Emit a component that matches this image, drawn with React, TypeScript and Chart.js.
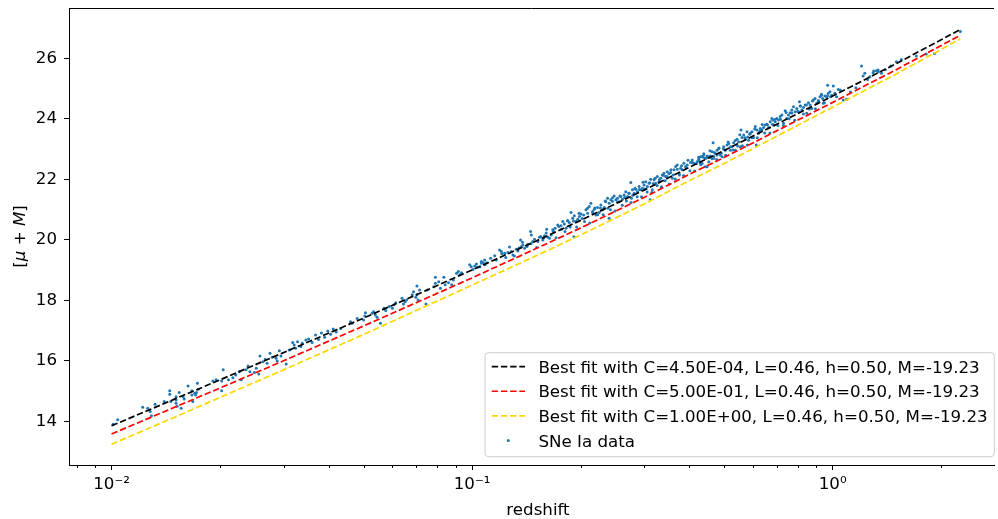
import React, { useEffect, useRef } from 'react';
import { Chart, registerables } from 'chart.js';

Chart.register(...registerables);

// ---------- axis ticks ----------
const xTickValues = [0.01, 0.1, 1];
const xTickLabels = ['10⁻²', '10⁻¹', '10⁰'];
const xMinorTickValues = [0.008, 0.009, 0.02, 0.03, 0.04, 0.05, 0.06, 0.07, 0.08, 0.09, 0.2, 0.3, 0.4, 0.5, 0.6, 0.7, 0.8, 0.9, 2];
const yTickValues = [14, 16, 18, 20, 22, 24, 26];

// ---------- best-fit curves ----------
const fitRedshift = [0.01, 0.015, 0.02, 0.03, 0.05, 0.07, 0.1, 0.15, 0.2, 0.3, 0.4, 0.5, 0.7, 1.0, 1.5, 2.0, 2.26];
const fitC450Em04 = [13.85, 14.74, 15.37, 16.27, 17.41, 18.18, 19.0, 19.95, 20.64, 21.64, 22.39, 22.95, 23.82, 24.75, 25.82, 26.61, 26.95];
const fitC500Em01 = [13.58, 14.47, 15.1, 16.0, 17.15, 17.92, 18.74, 19.7, 20.39, 21.4, 22.16, 22.72, 23.6, 24.54, 25.62, 26.42, 26.76];
const fitC100Ep00 = [13.24, 14.14, 14.79, 15.7, 16.87, 17.66, 18.5, 19.46, 20.16, 21.18, 21.95, 22.52, 23.42, 24.38, 25.48, 26.29, 26.64];

const seriesLabels = [
  'Best fit with C=4.50E-04, L=0.46, h=0.50, M=-19.23',
  'Best fit with C=5.00E-01, L=0.46, h=0.50, M=-19.23',
  'Best fit with C=1.00E+00, L=0.46, h=0.50, M=-19.23',
  'SNe Ia data',
];

// ---------- SNe Ia data: [redshift, mu + M] ----------
const sneIa: [number, number][] = [
  [0.0101, 13.9], [0.0104, 14.05], [0.0122, 14.46], [0.0126, 14.43], [0.0128, 14.32], [0.0129, 14.18], [0.0132, 14.56],
  [0.014, 14.65], [0.0145, 15.01], [0.0145, 14.89], [0.0146, 14.65], [0.0151, 14.7], [0.0151, 14.6], [0.0152, 14.5],
  [0.0151, 14.81], [0.0154, 14.95], [0.0156, 14.43], [0.0158, 14.81], [0.0159, 14.74], [0.0163, 15.17], [0.0167, 14.87],
  [0.0167, 15.01], [0.0168, 14.65], [0.017, 14.93], [0.0171, 14.87], [0.0172, 14.95], [0.0173, 15.26], [0.0174, 15.06],
  [0.0191, 15.33], [0.0195, 15.37], [0.0202, 15.33], [0.0204, 15.7], [0.0202, 15.01],
  [0.0211, 15.37], [0.0217, 15.44], [0.0221, 15.53], [0.0226, 15.64], [0.0229, 15.37], [0.0236, 15.7], [0.0239, 15.83],
  [0.0242, 15.64], [0.0249, 15.61], [0.0252, 15.75], [0.0256, 15.56], [0.0258, 16.16], [0.0263, 15.97], [0.0267, 16.05],
  [0.027, 15.92], [0.0275, 16.25], [0.0279, 16.12], [0.0286, 16.08], [0.0288, 15.99], [0.0292, 16.33], [0.0295, 16.16],
  [0.0305, 15.89], [0.0311, 16.36], [0.0318, 16.6], [0.0321, 16.52], [0.0324, 16.41], [0.0328, 16.63], [0.0335, 16.47],
  [0.0338, 16.58], [0.0346, 16.69],
  [0.0352, 16.72], [0.036, 16.6], [0.0368, 16.85], [0.0375, 16.7], [0.0382, 16.92], [0.039, 16.78], [0.0398, 16.98],
  [0.0405, 16.88], [0.0412, 17.05], [0.042, 16.95],
  [0.0432, 17.07], [0.046, 17.29], [0.0465, 17.24], [0.048, 17.4], [0.05, 17.35], [0.0506, 17.59], [0.0504, 17.48],
  [0.0528, 17.57], [0.0533, 17.62], [0.0539, 17.51], [0.0545, 17.44], [0.0557, 17.24], [0.057, 17.74], [0.0576, 17.66],
  [0.0589, 17.79], [0.0601, 17.74], [0.0607, 17.85], [0.0614, 17.92], [0.0639, 18.07], [0.0645, 17.88], [0.0652, 17.95],
  [0.0658, 18.01], [0.0682, 18.18], [0.0688, 18.28], [0.0703, 18.47], [0.0698, 18.1], [0.0708, 18.01], [0.0715, 18.34],
  [0.0703, 18.18], [0.0745, 17.88], [0.0751, 18.34], [0.0784, 18.45], [0.0791, 18.76], [0.0791, 18.56], [0.0808, 18.61],
  [0.0817, 18.4], [0.0835, 18.76], [0.0842, 18.51], [0.086, 18.58], [0.0878, 18.51], [0.0887, 18.67], [0.0906, 18.89],
  [0.0916, 18.95], [0.0925, 18.84], [0.0935, 18.91], [0.0985, 19.17], [0.0995, 19.11], [0.1006, 19.02], [0.1017, 19.13],
  [0.1028, 19.2], [0.1035, 19.09], [0.1051, 19.11], [0.1062, 19.22], [0.1074, 19.24], [0.1086, 19.17], [0.1098, 19.24],
  [0.1061, 19.28], [0.1084, 19.33], [0.1126, 19.39], [0.1155, 19.47], [0.1167, 19.33], [0.1192, 19.66], [0.1205, 19.61],
  [0.1231, 19.55], [0.1257, 19.58], [0.1284, 19.61], [0.1298, 19.5], [0.1326, 19.69], [0.134, 19.63], [0.1363, 19.99],
  [0.1369, 19.77], [0.1383, 19.83], [0.1398, 19.72], [0.1428, 19.85], [0.1453, 20.27], [0.1458, 19.88], [0.1474, 19.94],
  [0.149, 20.02], [0.1522, 19.94], [0.1538, 20.08], [0.1571, 19.99], [0.1588, 20.13], [0.1605, 20.22], [0.1622, 20.08],
  [0.1657, 20.16], [0.1674, 20.33], [0.1699, 20.38], [0.1728, 20.49], [0.1765, 20.46], [0.1784, 20.6], [0.1803, 20.52],
  [0.1822, 20.38], [0.1842, 20.63], [0.1861, 20.57], [0.1881, 20.9], [0.1901, 20.71], [0.1921, 20.79], [0.1942, 20.6],
  [0.1963, 20.68], [0.1984, 20.77], [0.2004, 20.85], [0.2039, 20.82], [0.2069, 20.99], [0.2091, 21.04], [0.2113, 21.1],
  [0.2136, 21.21], [0.2159, 20.93], [0.2182, 21.01], [0.2205, 20.82], [0.2228, 21.07], [0.2252, 20.9], [0.2276, 21.15],
  [0.2301, 20.99], [0.2325, 21.07], [0.235, 21.26], [0.2375, 21.37], [0.2401, 21.21], [0.2426, 21.32], [0.2452, 21.39],
  [0.2478, 21.45], [0.2505, 21.32], [0.2531, 21.37], [0.2558, 21.26], [0.2586, 21.43], [0.2613, 21.34], [0.2641, 21.48],
  [0.2669, 21.59], [0.2698, 21.43], [0.2727, 21.54], [0.2756, 21.89], [0.2767, 21.37], [0.2785, 21.65], [0.2815, 21.54],
  [0.2845, 21.67], [0.2875, 21.59], [0.2906, 21.76], [0.2937, 21.65], [0.2969, 21.7], [0.2999, 21.81], [0.3031, 21.92],
  [0.3063, 21.76], [0.3096, 21.87], [0.3129, 22.0], [0.3162, 21.65], [0.3196, 21.98], [0.323, 21.87], [0.3264, 22.09],
  [0.3299, 21.92], [0.3334, 22.03], [0.337, 22.14], [0.3406, 22.2], [0.3442, 22.09], [0.3479, 22.25], [0.3516, 22.18],
  [0.3554, 22.22], [0.3592, 22.03], [0.363, 22.31], [0.3669, 22.42], [0.3707, 22.47], [0.3747, 22.2], [0.3787, 22.36],
  [0.3827, 22.31], [0.3868, 22.53], [0.3909, 22.42], [0.3951, 22.47], [0.4036, 22.55], [0.4079, 22.64], [0.4121, 22.53],
  [0.421, 22.58], [0.4255, 22.66], [0.43, 22.53], [0.4346, 22.75], [0.4392, 22.84], [0.4439, 22.69], [0.4486, 22.77],
  [0.4583, 22.73], [0.4681, 22.75], [0.4781, 22.8], [0.4884, 22.86],
  [0.4254, 22.63], [0.4299, 22.74], [0.4345, 22.52], [0.4392, 22.8], [0.4439, 22.69], [0.4486, 22.41], [0.4534, 22.58],
  [0.4582, 22.77], [0.4631, 22.91], [0.4661, 23.21], [0.468, 22.69], [0.473, 22.85], [0.4781, 22.96], [0.4832, 23.02],
  [0.4883, 22.8], [0.4935, 22.74], [0.4988, 23.07], [0.5041, 22.96], [0.5095, 23.13], [0.5149, 23.18], [0.5204, 22.96],
  [0.526, 23.07], [0.5316, 23.21], [0.5373, 22.96], [0.543, 23.32], [0.5488, 23.24], [0.5546, 23.07], [0.557, 23.63],
  [0.5606, 23.38], [0.5666, 23.46], [0.5726, 23.32], [0.5787, 23.57], [0.5812, 23.4], [0.5848, 23.29], [0.5911, 23.52],
  [0.5974, 23.57], [0.6037, 23.38], [0.6102, 23.74], [0.6141, 23.13], [0.6166, 23.63], [0.6232, 23.52], [0.6299, 23.68],
  [0.6366, 23.63], [0.6434, 23.71], [0.6502, 23.79], [0.6572, 23.82], [0.6642, 23.71], [0.6713, 23.9], [0.6784, 24.01],
  [0.6827, 23.96], [0.6857, 23.79], [0.693, 23.9], [0.7004, 24.01], [0.7079, 23.96], [0.7154, 24.07], [0.7231, 24.12],
  [0.7308, 23.85], [0.7386, 24.26], [0.7464, 24.01], [0.7544, 24.12], [0.7624, 24.2], [0.7706, 24.29], [0.7788, 24.4],
  [0.7871, 24.23], [0.7955, 24.34], [0.804, 24.23], [0.8092, 24.56], [0.8126, 24.42], [0.8213, 24.29], [0.83, 24.37],
  [0.8389, 24.45], [0.8479, 24.18], [0.8566, 24.53], [0.8659, 24.45], [0.8751, 24.34], [0.8844, 24.62], [0.8939, 24.67],
  [0.9034, 24.51], [0.9129, 24.6], [0.9226, 24.73], [0.9324, 24.78], [0.9383, 24.67], [0.9423, 24.51], [0.9524, 24.75],
  [0.9625, 24.73], [0.9687, 25.11], [0.9728, 24.84], [0.9831, 24.89], [0.9936, 24.78], [1.0042, 25.08], [1.0148, 24.84],
  [1.0257, 24.73], [1.0368, 24.97], [1.0703, 24.62], [1.0932, 24.64],
  [1.2024, 25.74], [1.2152, 25.41], [1.2282, 25.5], [1.2678, 25.39], [1.295, 25.52], [1.3228, 25.59], [1.3369, 25.61],
  [1.3657, 25.5], [1.5024, 25.88], [1.5509, 25.96], [1.7061, 26.07], [1.8184, 26.14], [1.9174, 26.16], [2.26, 26.88],
  [0.121, 19.54], [0.124, 19.41], [0.127, 19.76], [0.131, 19.46], [0.135, 19.73], [0.138, 19.92], [0.142, 19.78],
  [0.146, 20.16], [0.151, 19.74], [0.155, 20.11], [0.158, 20.06], [0.161, 20.35], [0.164, 20.05], [0.168, 20.28],
  [0.171, 20.07], [0.174, 20.44], [0.177, 20.35], [0.181, 20.27], [0.184, 20.63], [0.187, 20.42], [0.191, 20.62],
  [0.195, 20.42], [0.198, 20.88], [0.202, 20.7], [0.205, 20.6], [0.209, 20.88], [0.212, 20.55], [0.216, 20.89],
  [0.219, 21.05], [0.223, 20.83], [0.227, 21.05], [0.231, 20.83], [0.234, 21.28], [0.238, 21.04], [0.242, 20.99],
  [0.245, 21.27], [0.249, 20.95], [0.253, 21.25], [0.257, 21.45], [0.261, 21.14], [0.265, 21.4], [0.268, 21.28],
  [0.272, 21.54], [0.276, 21.23], [0.279, 21.47], [0.283, 21.7], [0.287, 21.42], [0.291, 21.66], [0.295, 21.42],
  [0.298, 21.9], [0.302, 21.68], [0.306, 21.58], [0.311, 21.88], [0.315, 21.56], [0.318, 21.86], [0.322, 22.03],
  [0.326, 21.79], [0.331, 21.99], [0.335, 21.75], [0.339, 22.13], [0.343, 21.95], [0.347, 22.09], [0.352, 21.84],
  [0.356, 22.31], [0.361, 22.14], [0.366, 22.01], [0.371, 22.33], [0.376, 22.14], [0.381, 22.45], [0.386, 22.12],
  [0.392, 22.38], [0.397, 22.63], [0.402, 22.28], [0.408, 22.55], [0.414, 22.27], [0.419, 22.52], [0.425, 22.73],
  [0.431, 22.48], [0.437, 22.73], [0.443, 22.41], [0.45, 22.75], [0.457, 22.94], [0.463, 22.68], [0.47, 22.88],
  [0.477, 22.65], [0.484, 23.03], [0.491, 22.86], [0.498, 23.0], [0.505, 22.79], [0.513, 23.23], [0.521, 23.07],
  [0.529, 22.97], [0.537, 23.28], [0.545, 23.1], [0.553, 23.47], [0.562, 23.11], [0.571, 23.37], [0.58, 23.13],
  [0.589, 23.49], [0.598, 23.37], [0.608, 23.66], [0.618, 23.37], [0.628, 23.59], [0.638, 23.81], [0.648, 23.53],
  [0.659, 23.8], [0.67, 23.53], [0.681, 23.82], [0.693, 23.98], [0.705, 23.78], [0.717, 23.98], [0.73, 23.78],
  [0.743, 24.21], [0.757, 24.0], [0.771, 24.19], [0.785, 23.95], [0.8, 24.25], [0.815, 24.42], [0.83, 24.16],
  [0.846, 24.45], [0.862, 24.32], [0.879, 24.59], [0.896, 24.33], [0.913, 24.57], [0.931, 24.81], [0.949, 24.53],
  [0.968, 24.76], [0.987, 24.73], [1.05, 24.95], [1.12, 24.88], [1.16, 25.02], [1.25, 25.3], [1.3, 25.58],
  [1.34, 25.55], [1.4, 25.62], [1.45, 25.74], [0.1916, 20.1], [0.24, 20.71], [0.312, 21.32],
];

// ---------- styling ----------
const FONT = "'DejaVu Sans', 'Liberation Sans', sans-serif";
const FS = 16.67;
const lineColors = ['#000000', '#ff0000', '#ffd700'];
const pointColor = '#1f77b4';
const DASH = [6.4, 2.8];

const zeroPad = (s: any) => {
  s.paddingTop = 0;
  s.paddingBottom = 0;
  s.paddingLeft = 0;
  s.paddingRight = 0;
};

const mplDecor = {
  id: 'mplDecor',
  afterDraw(chart: any) {
    const { ctx, chartArea, scales } = chart;
    const xs = scales.x;
    ctx.save();
    ctx.strokeStyle = '#000';
    ctx.lineWidth = 1;
    // top spine
    ctx.beginPath();
    ctx.moveTo(chartArea.left, Math.round(chartArea.top) + 0.5);
    ctx.lineTo(chartArea.right, Math.round(chartArea.top) + 0.5);
    ctx.stroke();
    // minor ticks
    xMinorTickValues.forEach((v) => {
      const px = Math.round(xs.getPixelForValue(v)) + 0.5;
      if (px < chartArea.left || px > chartArea.right) return;
      ctx.beginPath();
      ctx.moveTo(px, chartArea.bottom);
      ctx.lineTo(px, chartArea.bottom + 3);
      ctx.stroke();
    });
    // x title
    ctx.fillStyle = '#000';
    ctx.font = `${FS}px ${FONT}`;
    ctx.textAlign = 'center';
    ctx.textBaseline = 'alphabetic';
    ctx.fillText('redshift', (chartArea.left + 1007) / 2, 514.5);
    // y title  [μ + M]
    const parts: [string, boolean][] = [['[', false], ['μ', true], [' + ', false], ['M', true], [']', false]];
    const fontOf = (it: boolean) => `${it ? 'italic ' : ''}${FS}px ${FONT}`;
    let total = 0;
    parts.forEach(([t, it]) => { ctx.font = fontOf(it); total += ctx.measureText(t).width; });
    ctx.translate(24.5, (chartArea.top + chartArea.bottom) / 2);
    ctx.rotate(-Math.PI / 2);
    ctx.textAlign = 'left';
    let cx = -total / 2;
    parts.forEach(([t, it]) => { ctx.font = fontOf(it); ctx.fillText(t, cx, 0); cx += ctx.measureText(t).width; });
    ctx.setTransform(1, 0, 0, 1, 0, 0);
    // legend
    const ds = chart.data.datasets;
    ctx.font = `${FS}px ${FONT}`;
    const textX = 538.4;
    const maxW = Math.max(...ds.map((d: any) => ctx.measureText(d.label).width));
    const bl = 485, bt = 352.7, bb = 456.7, br = textX + maxW + 6.7, r = 3.5;
    ctx.beginPath();
    ctx.moveTo(bl + r, bt);
    ctx.lineTo(br - r, bt);
    ctx.quadraticCurveTo(br, bt, br, bt + r);
    ctx.lineTo(br, bb - r);
    ctx.quadraticCurveTo(br, bb, br - r, bb);
    ctx.lineTo(bl + r, bb);
    ctx.quadraticCurveTo(bl, bb, bl, bb - r);
    ctx.lineTo(bl, bt + r);
    ctx.quadraticCurveTo(bl, bt, bl + r, bt);
    ctx.closePath();
    ctx.fillStyle = 'rgba(255,255,255,0.8)';
    ctx.fill();
    ctx.strokeStyle = '#cccccc';
    ctx.lineWidth = 1;
    ctx.stroke();
    ds.forEach((d: any, i: number) => {
      const base = 372.6 + i * 24.65;
      const my = base - 6;
      if (d.showLine) {
        ctx.save();
        ctx.strokeStyle = d.borderColor;
        ctx.lineWidth = d.borderWidth;
        ctx.setLineDash(d.borderDash);
        ctx.beginPath();
        ctx.moveTo(491.7, my);
        ctx.lineTo(525, my);
        ctx.stroke();
        ctx.restore();
      } else {
        ctx.fillStyle = d.backgroundColor;
        ctx.beginPath();
        ctx.arc(508.3, my, d.pointRadius, 0, Math.PI * 2);
        ctx.fill();
      }
      ctx.fillStyle = '#000';
      ctx.textAlign = 'left';
      ctx.textBaseline = 'alphabetic';
      ctx.fillText(d.label, textX, base);
    });
    ctx.restore();
  },
};

export default function App() {
  const ref = useRef<HTMLCanvasElement | null>(null);
  useEffect(() => {
    if (!ref.current) return;
    const fits = [fitC450Em04, fitC500Em01, fitC100Ep00];
    const lineSets = fits.map((vals, i) => ({
      type: 'scatter' as const,
      label: seriesLabels[i],
      data: fitRedshift.map((z, j) => ({ x: z, y: vals[j] })),
      showLine: true,
      borderColor: lineColors[i],
      backgroundColor: lineColors[i],
      borderWidth: 1.7,
      borderDash: DASH,
      pointRadius: 0,
      tension: 0,
      fill: false,
      order: 3 - i,
    }));
    const chart = new Chart(ref.current, {
      type: 'scatter',
      data: {
        datasets: [
          ...lineSets,
          {
            label: seriesLabels[3],
            data: sneIa.map(([z, m]) => ({ x: z, y: m })),
            showLine: false,
            backgroundColor: pointColor,
            borderColor: pointColor,
            pointRadius: 1.5,
            pointBorderWidth: 0,
            borderWidth: 0,
            order: 10,
          } as any,
        ],
      },
      options: {
        responsive: false,
        maintainAspectRatio: false,
        devicePixelRatio: 1,
        animation: false,
        layout: { padding: { left: 0, right: 0, top: 8, bottom: 0 } },
        plugins: { legend: { display: false }, tooltip: { enabled: false } },
        scales: {
          x: {
            type: 'logarithmic',
            min: 0.00762,
            max: 2.803,
            afterFit: (s: any) => { s.height = 54; zeroPad(s); },
            afterBuildTicks: (s: any) => { s.ticks = xTickValues.map((v) => ({ value: v, major: true })); },
            ticks: {
              autoSkip: false,
              maxRotation: 0,
              minRotation: 0,
              padding: 5,
              color: '#000',
              font: { family: FONT, size: FS },
              callback: (v: any) => {
                const k = xTickValues.findIndex((t) => Math.abs(t - Number(v)) < 1e-9);
                return k >= 0 ? xTickLabels[k] : '';
              },
            },
            grid: { display: true, drawOnChartArea: false, drawTicks: true, tickLength: 5, tickColor: '#000', tickWidth: 1 },
            border: { display: true, color: '#000', width: 1 },
          },
          y: {
            type: 'linear',
            min: 12.555,
            max: 27.66,
            afterFit: (s: any) => { s.width = 69; zeroPad(s); },
            afterBuildTicks: (s: any) => { s.ticks = yTickValues.map((v) => ({ value: v })); },
            ticks: {
              padding: 7,
              color: '#000',
              font: { family: FONT, size: FS },
              callback: (v: any) => String(v),
            },
            grid: { display: true, drawOnChartArea: false, drawTicks: true, tickLength: 5, tickColor: '#000', tickWidth: 1 },
            border: { display: true, color: '#000', width: 1 },
          },
        },
      },
      plugins: [mplDecor],
    } as any);
    return () => chart.destroy();
  }, []);
  return (
    <div style={{ position: 'fixed', left: 0, top: 0, width: 998, height: 519, background: '#fff', overflow: 'hidden' }}>
      <canvas ref={ref} width={998} height={519} style={{ display: 'block', width: 998, height: 519 }} />
    </div>
  );
}
